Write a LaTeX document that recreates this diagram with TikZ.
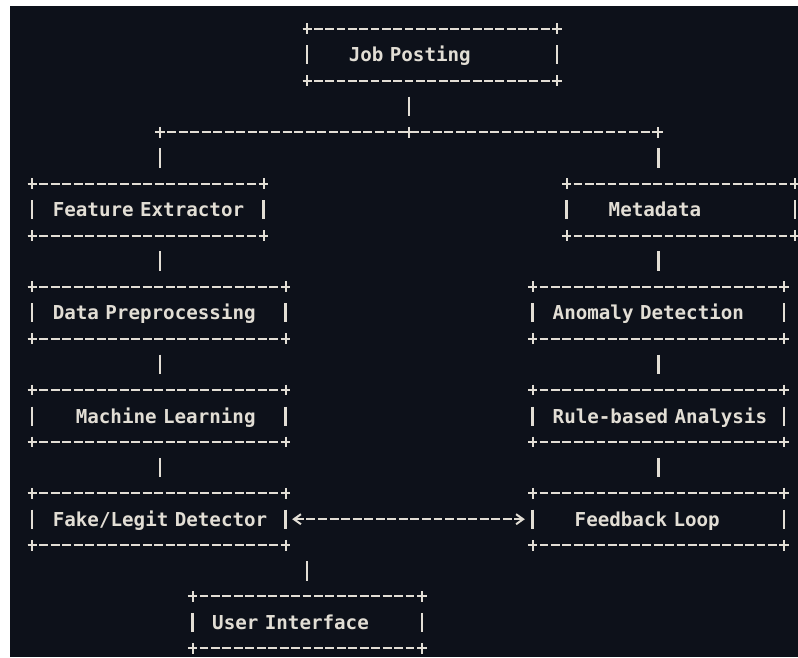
\documentclass[tikz,border=0pt]{standalone}
\usepackage{fontspec}
\newfontfamily\asciifont[WordSpace={1,0,0}]{DejaVu Sans Mono}
\usetikzlibrary{arrows.meta}
\definecolor{bgc}{RGB}{13,17,26}
\definecolor{fgc}{RGB}{226,222,213}
\tikzset{
  box/.style={rectangle, inner sep=0pt, align=left, text=fgc,
    font=\asciifont\bfseries\fontsize{19.2}{23}\selectfont,
    text height=14pt, text depth=0pt},
  glyph/.style={draw=fgc, line width=2pt},
  bar/.style={draw=fgc, line width=2.4pt},
  conn/.style={bar, shorten <=15.8pt, shorten >=15.8pt},
  dashln/.style={glyph, dash pattern=on 8.95pt off 2.6pt},
  link/.style={dashln, shorten <=6.7pt, shorten >=7.7pt,
    {Straight Barb[length=7pt,width=10pt,line width=2pt]}-{Straight Barb[length=7pt,width=10pt,line width=2pt]}},
}
\newcommand\plusat[1]{\draw[glyph] (#1) +(-4.6,0) -- +(4.6,0) (#1) +(0,-5.4) -- +(0,5.4);}
% name, L, R, T, B, text offset, text
\newcommand\asciibox[7]{%
  \pgfmathsetmacro\abw{#3-#2}%
  \pgfmathsetmacro\abh{#5-#4}%
  \pgfmathsetmacro\abx{(#2+#3)/2}%
  \pgfmathsetmacro\aby{(#4+#5)/2}%
  \pgfmathsetmacro\abn{round(\abw/11.55)}%
  \pgfmathsetmacro\abon{\abw/\abn-2.6}%
  \pgfmathsetmacro\abhalf{\abon/2}%
  \node[box, minimum width=\abw pt, minimum height=\abh pt, text width=\abw pt] (#1) at (\abx,\aby) {\hspace*{#6pt}#7};
  \draw[glyph, dash pattern=on \abon pt off 2.6pt] ([xshift=-\abhalf pt]#1.north west) -- ([xshift=\abhalf pt]#1.north east);
  \draw[glyph, dash pattern=on \abon pt off 2.6pt] ([xshift=-\abhalf pt]#1.south west) -- ([xshift=\abhalf pt]#1.south east);
  \plusat{#1.north west}\plusat{#1.north east}\plusat{#1.south west}\plusat{#1.south east}
  \draw[bar] (#1.west) +(0,-9.5) -- +(0,9.5);
  \draw[bar] (#1.east) +(0,-9.5) -- +(0,9.5);
}
\begin{document}
\begin{tikzpicture}[x=1pt,y=-1pt]
\useasboundingbox (0,0) rectangle (798,657);
\fill[white] (0,0) rectangle (798,657);
\fill[bgc] (10,6) rectangle (798,657);

\asciibox{job}{307.3}{556.7}{29}{80.6}{41.5}{Job Posting}
\asciibox{fe}{32.3}{263.3}{183.8}{235.4}{20.5}{Feature Extractor}
\asciibox{md}{566.7}{794.5}{183.8}{235.4}{42}{Metadata}
\asciibox{dp}{32.3}{285.3}{287}{338.6}{20.5}{Data Preprocessing}
\asciibox{ad}{532.7}{784}{287}{338.6}{20}{Anomaly Detection}
\asciibox{ml}{32.3}{285.3}{390.2}{441.8}{43.5}{Machine Learning}
\asciibox{rb}{532.7}{784}{390.2}{441.8}{20}{Rule-based Analysis}
\asciibox{fk}{32.3}{285.3}{493.4}{545}{20.5}{Fake/Legit Detector}
\asciibox{fb}{532.7}{784}{493.4}{545}{42}{Feedback Loop}
\asciibox{ui}{192.7}{421.7}{596.6}{648.2}{19.5}{User Interface}

\coordinate (jl) at (160,132.2);
\coordinate (jc) at (409,132.2);
\coordinate (jr) at (658.3,132.2);
\draw[dashln] ([xshift=-4.5pt]jl) -- ([xshift=4.5pt]jr);
\plusat{jl}\plusat{jc}\plusat{jr}

\draw[conn] (job.south -| jc) -- (jc);
\draw[conn] (jl) -- (fe.north -| jl);
\draw[conn] (jr) -- (md.north -| jr);
\draw[conn] (fe.south -| jl) -- (dp.north -| jl);
\draw[conn] (dp.south -| jl) -- (ml.north -| jl);
\draw[conn] (ml.south -| jl) -- (fk.north -| jl);
\draw[conn] (md.south -| jr) -- (ad.north -| jr);
\draw[conn] (ad.south -| jr) -- (rb.north -| jr);
\draw[conn] (rb.south -| jr) -- (fb.north -| jr);
\draw[conn] (fk.south -| ui.north) -- (ui.north);
\draw[link] (fk.east) -- (fb.west);
\end{tikzpicture}
\end{document}
